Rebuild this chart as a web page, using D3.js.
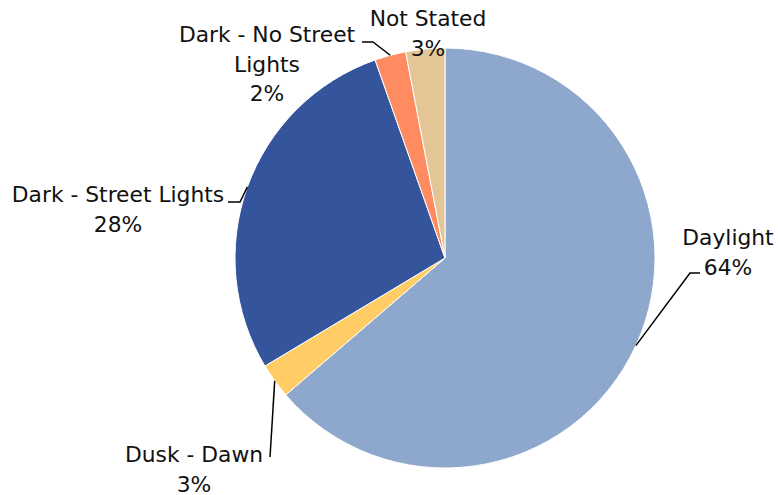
<!DOCTYPE html>
<html><head><meta charset="utf-8">
<script src="https://cdn.jsdelivr.net/npm/d3@7"></script>
<style>body{margin:0;background:#fff}text{font-family:"DejaVu Sans",sans-serif;fill:#111}</style>
</head><body><svg id="c" width="778" height="495"></svg>
<script>
const categories = ["Daylight", "Dusk - Dawn", "Dark - Street Lights", "Dark - No Street Lights", "Not Stated"];
const values = [63.7, 2.7, 28.2, 2.4, 3.0];
const colors = ["#8EA7CD", "#FFCC66", "#34559C", "#FF8C61", "#E3C596"];
const labelLines = [["Daylight"], ["Dusk - Dawn"], ["Dark - Street Lights"], ["Dark - No Street", "Lights"], ["Not Stated"]];

// layout (label anchor positions and leader elbows)
const layout = [
  {x: 728, y: 245, elbow: [[690, 273], [700, 273]]},
  {x: 194, y: 462, elbow: [[270, 457]]},
  {x: 118, y: 202, elbow: [[240, 202], [228, 202]]},
  {x: 267, y: 42, elbow: [[373, 42], [362, 42]]},
  {x: 428, y: 26, elbow: null}
];

const svg = d3.select("#c");
const cx = 445, cy = 258, R = 210;
const g = svg.append("g").attr("transform", `translate(${cx},${cy})`);
const pie = d3.pie().sort(null).value(d => d)(values);
const arc = d3.arc().innerRadius(0).outerRadius(R);
g.selectAll("path").data(pie).join("path")
  .attr("d", arc).attr("fill", (d, i) => colors[i])
  .attr("stroke", "#fff").attr("stroke-width", 1);

const total = d3.sum(values);
pie.forEach((d, i) => {
  const L = layout[i];
  const mid = (d.startAngle + d.endAngle) / 2;
  const p0 = [cx + R * Math.sin(mid), cy - R * Math.cos(mid)];
  if (L.elbow) {
    const pts = [p0, ...L.elbow];
    svg.append("path").attr("d", d3.line()(pts)).attr("fill", "none")
      .attr("stroke", "#000").attr("stroke-width", 1.5);
  }
  const lines = [...labelLines[i], Math.round(values[i] / total * 100) + "%"];
  const t = svg.append("text").attr("text-anchor", "middle").attr("font-size", 21.8);
  lines.forEach((s, k) => t.append("tspan").attr("x", L.x).attr("y", L.y + k * 29.5).text(s));
});
</script></body></html>
